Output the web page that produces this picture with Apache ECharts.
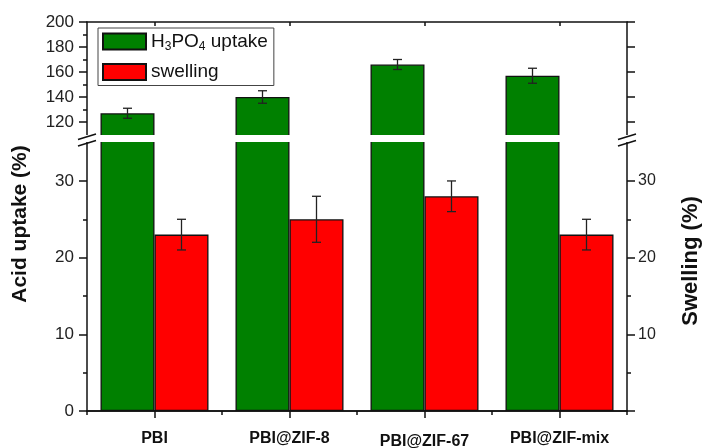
<!DOCTYPE html>
<html>
<head>
<meta charset="utf-8">
<script src="https://cdn.jsdelivr.net/npm/echarts@6/dist/echarts.min.js"></script>
<style>
  html, body { margin: 0; padding: 0; background: #fff; }
  #chart { width: 704px; height: 448px; }
</style>
</head>
<body>
<div id="chart"></div>
<script>
// data
var categories = ['PBI', 'PBI@ZIF-8', 'PBI@ZIF-67', 'PBI@ZIF-mix']
var uptake = [127, 140, 166, 157]
var uptakeErr = [4, 5, 4, 6]
var swelling = [23, 25, 28, 23]
var swellingErr = [2, 3, 2, 2]
// tick labels
var upperTicks = [120, 140, 160, 180, 200]
var upperMinor = [130, 150, 170, 190]
var lowerTicks = [0, 10, 20, 30]
var lowerMinor = [5, 15, 25]
var rightTicks = [10, 20, 30]

var FONT = '"Liberation Sans", Arial, sans-serif'
var GREEN = '#008000'
var RED = '#ff0000'
var INK = '#111'

var myChart = echarts.init(document.getElementById('chart'))

// broken axis: upper grid 107..200, lower grid 0..35.6
var UP_MIN = 107.2
var UP_MAX = 200
var LOW_MIN = 0
var LOW_MAX = 35.6

function yAxis (grid, pos, min, max, ticks, labels, len, showLine) {
  return {
    type: 'value',
    gridIndex: grid,
    position: pos,
    min: min,
    max: max,
    splitLine: { show: false },
    axisLine: { show: showLine, onZero: false, lineStyle: { color: INK, width: 1.5 } },
    axisTick: { show: true, inside: false, length: len, customValues: ticks, lineStyle: { color: INK, width: 1.5 } },
    axisLabel: labels
      ? { show: true, customValues: labels, margin: pos === 'left' ? 13 : 11, color: '#222', fontSize: pos === 'left' ? 17 : 16, fontFamily: FONT }
      : { show: false }
  }
}

function xAxis (grid, pos, centerTicks, len, showLabel, inside) {
  return {
    type: 'category',
    gridIndex: grid,
    position: pos,
    data: categories.map(function (c) {
      if (c === 'PBI@ZIF-67') return { value: c, textStyle: { padding: [3, 0, 0, 0] } }
      return c
    }),
    axisLine: { show: true, onZero: false, lineStyle: { color: INK, width: 1.5 } },
    axisTick: { show: true, alignWithLabel: centerTicks, inside: inside, length: len, lineStyle: { color: INK, width: 1.5 } },
    axisLabel: showLabel
      ? { show: true, margin: 20, color: INK, fontSize: 16, fontWeight: 'bold', fontFamily: FONT }
      : { show: false },
    splitLine: { show: false }
  }
}

// error bars drawn from the library's own coordinates
function errorRender (side) {
  return function (params, api) {
    var i = api.value(0)
    var v = api.value(1)
    var e = api.value(2)
    var dx = api.size([1, 0])[0] * 0.2 * side
    var hi = api.coord([i, v + e])
    var lo = api.coord([i, v - e])
    var x = hi[0] + dx
    var cap = 4.5
    var style = { stroke: '#222', lineWidth: 1.3, fill: null }
    return {
      type: 'group',
      children: [
        { type: 'line', shape: { x1: x, y1: hi[1], x2: x, y2: lo[1] }, style: style },
        { type: 'line', shape: { x1: x - cap, y1: hi[1], x2: x + cap, y2: hi[1] }, style: style },
        { type: 'line', shape: { x1: x - cap, y1: lo[1], x2: x + cap, y2: lo[1] }, style: style }
      ]
    }
  }
}

var barStyle = function (color) {
  return { color: color, borderColor: INK, borderWidth: 1.3 }
}

var option = {
  animation: false,
  grid: [
    { left: 87, right: 77, top: 22, height: 116, outerBoundsMode: 'none', containLabel: false },
    { left: 87, right: 77, top: 138, height: 273, outerBoundsMode: 'none', containLabel: false }
  ],
  legend: {
    left: 98,
    top: 28,
    orient: 'vertical',
    selectedMode: false,
    data: ['H3PO4 uptake', 'swelling'],
    icon: 'rect',
    itemWidth: 43,
    itemHeight: 16,
    itemGap: 10,
    padding: [4, 6, 4, 4],
    borderColor: '#444',
    borderWidth: 1,
    borderRadius: 0,
    backgroundColor: '#fff',
    formatter: function (name) {
      return name === 'H3PO4 uptake' ? 'H{sub|3}PO{sub|4} uptake' : name
    },
    textStyle: {
      color: INK,
      fontSize: 19,
      fontFamily: FONT,
      rich: {
        sub: { fontSize: 12, fontFamily: FONT, color: INK, padding: [10, 0, 0, 0] }
      }
    }
  },
  xAxis: [
    xAxis(0, 'top', true, 4, false, true),
    xAxis(1, 'bottom', true, 7, true, false),
    xAxis(1, 'bottom', false, 4, false, false)
  ],
  yAxis: [
    yAxis(0, 'left', UP_MIN, UP_MAX, upperTicks, upperTicks, 8, true),
    yAxis(0, 'left', UP_MIN, UP_MAX, upperMinor, null, 4, false),
    yAxis(0, 'right', UP_MIN, UP_MAX, upperTicks, null, 8, true),
    yAxis(1, 'left', LOW_MIN, LOW_MAX, lowerTicks, lowerTicks, 8, true),
    yAxis(1, 'left', LOW_MIN, LOW_MAX, lowerMinor, null, 4, false),
    yAxis(1, 'right', LOW_MIN, LOW_MAX, lowerTicks, rightTicks, 8, true),
    yAxis(1, 'right', LOW_MIN, LOW_MAX, lowerMinor, null, 4, false)
  ],
  series: [
    {
      name: 'H3PO4 uptake', type: 'bar', xAxisIndex: 0, yAxisIndex: 0,
      data: uptake, barGap: '0%', barCategoryGap: '20%', clip: true,
      itemStyle: barStyle(GREEN)
    },
    {
      name: 'swelling', type: 'bar', xAxisIndex: 0, yAxisIndex: 0,
      data: swelling.map(function () { return '-' }), barGap: '0%', barCategoryGap: '20%',
      itemStyle: barStyle(RED)
    },
    {
      name: 'H3PO4 uptake', type: 'bar', xAxisIndex: 1, yAxisIndex: 3,
      data: uptake, barGap: '0%', barCategoryGap: '20%', clip: true,
      itemStyle: barStyle(GREEN)
    },
    {
      name: 'swelling', type: 'bar', xAxisIndex: 1, yAxisIndex: 3,
      data: swelling, barGap: '0%', barCategoryGap: '20%', clip: true,
      itemStyle: barStyle(RED)
    },
    {
      type: 'custom', xAxisIndex: 0, yAxisIndex: 0, clip: true, z: 5,
      renderItem: errorRender(-1),
      data: uptake.map(function (v, i) { return [i, v, uptakeErr[i]] })
    },
    {
      type: 'custom', xAxisIndex: 1, yAxisIndex: 3, clip: true, z: 5,
      renderItem: errorRender(1),
      data: swelling.map(function (v, i) { return [i, v, swellingErr[i]] })
    }
  ],
  graphic: [
    // white band of the axis break
    { type: 'rect', z: 100, shape: { x: 70, y: 135, width: 570, height: 7 }, style: { fill: '#fff' } },
    { type: 'line', z: 101, shape: { x1: 78, y1: 139.5, x2: 96, y2: 134 }, style: { stroke: INK, lineWidth: 1.5 } },
    { type: 'line', z: 101, shape: { x1: 78, y1: 146, x2: 96, y2: 140.5 }, style: { stroke: INK, lineWidth: 1.5 } },
    { type: 'line', z: 101, shape: { x1: 618, y1: 139.5, x2: 636, y2: 134 }, style: { stroke: INK, lineWidth: 1.5 } },
    { type: 'line', z: 101, shape: { x1: 618, y1: 146, x2: 636, y2: 140.5 }, style: { stroke: INK, lineWidth: 1.5 } },
    {
      type: 'text', z: 101, x: 20, y: 224, rotation: Math.PI / 2,
      style: { text: 'Acid uptake (%)', font: 'bold 21px ' + FONT, fill: INK, align: 'center', verticalAlign: 'middle', textAlign: 'center', textVerticalAlign: 'middle' }
    },
    {
      type: 'text', z: 101, x: 691, y: 261, rotation: Math.PI / 2,
      style: { text: 'Swelling (%)', font: 'bold 22px ' + FONT, fill: INK, align: 'center', verticalAlign: 'middle', textAlign: 'center', textVerticalAlign: 'middle' }
    }
  ]
}

myChart.setOption(option)
window.addEventListener('resize', function () { myChart.resize() })
</script>
</body>
</html>
